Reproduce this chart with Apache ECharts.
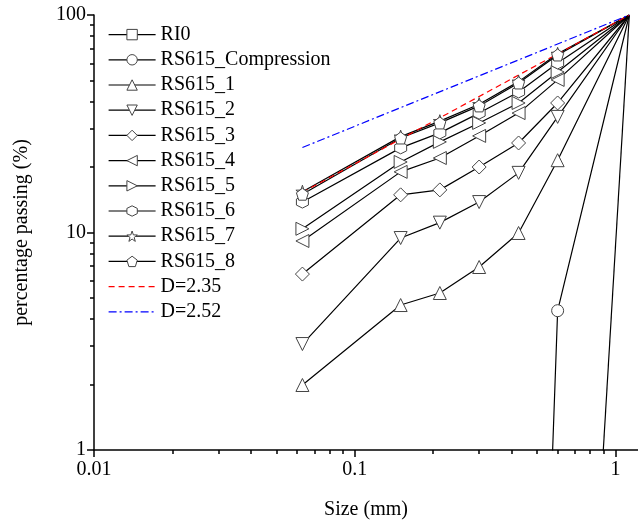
<!DOCTYPE html>
<html>
<head>
<meta charset="utf-8">
<script src="https://cdn.jsdelivr.net/npm/echarts@6/dist/echarts.min.js"></script>
<style>
  html, body { margin: 0; padding: 0; background: #fff; }
  #main { width: 638px; height: 526px; }
</style>
</head>
<body>
<div id="main"></div>
<script>
  // sieve sizes (mm)
  const sizes = [0.063, 0.15, 0.212, 0.3, 0.425, 0.6, 1.13]

  // percentage passing for every sample (null = not on the chart)
  const RI0 = [null, null, null, null, null, 0.00031, 100]
  const RS615_Compression = [null, null, null, null, 0.000044, 4.37, 100]
  const RS615_1 = [1.99, 4.64, 5.27, 6.94, 9.95, 21.5, 100]
  const RS615_2 = [3.07, 9.43, 11.1, 13.8, 18.8, 34.0, 100]
  const RS615_3 = [6.44, 14.9, 15.7, 20.0, 25.8, 39.4, 100]
  const RS615_4 = [9.14, 19.0, 22.0, 27.8, 35.4, 50.3, 100]
  const RS615_5 = [10.4, 21.1, 26.1, 31.9, 39.4, 54.7, 100]
  const RS615_6 = [13.8, 24.5, 28.7, 35.4, 44.3, 60.2, 100]
  const RS615_7 = [15.4, 27.6, 32.5, 38.9, 49.4, 66.3, 100]
  const RS615_8 = [15.0, 27.2, 31.9, 38.2, 48.7, 65.5, 100]

  // fractal lines, end points only
  const D235_x = [0.063, 1.13]
  const D235_y = [15.3, 100]
  const D252_x = [0.063, 1.13]
  const D252_y = [24.6, 100]

  // ticks
  const xMajor = [0.01, 0.1, 1]
  const xMinor = [0.02, 0.03, 0.04, 0.05, 0.06, 0.07, 0.08, 0.09, 0.2, 0.3, 0.4, 0.5, 0.6, 0.7, 0.8, 0.9]
  const yMajor = [1, 10, 100]
  const yMinor = [2, 3, 4, 5, 6, 7, 8, 9, 20, 30, 40, 50, 60, 70, 80, 90]

  const font = 'Liberation Serif'

  const hexagon = 'path://M0,-1L0.866,-0.5L0.866,0.5L0,1L-0.866,0.5L-0.866,-0.5Z'
  const pentagon = 'path://M0,-1L0.951,-0.309L0.588,0.809L-0.588,0.809L-0.951,-0.309Z'
  const star = 'path://M0,-1L0.235,-0.324L0.951,-0.309L0.38,0.124L0.588,0.809L0,0.4L-0.588,0.809L-0.38,0.124L-0.951,-0.309L-0.235,-0.324Z'

  function pairs(xs, ys, hideLast) {
    let out = []
    for (let i = 0; i < xs.length; i++) {
      if (ys[i] == null) continue
      // markers at the top corner are cut off by the frame in the original
      if (hideLast && i === xs.length - 1) out.push({ value: [xs[i], ys[i]], symbol: 'none' })
      else out.push([xs[i], ys[i]])
    }
    return out
  }

  function sample(name, values, symbol, rotate, size) {
    return {
      name: name,
      type: 'line',
      data: pairs(sizes, values, true),
      symbol: symbol,
      symbolRotate: rotate || 0,
      symbolSize: size || 11,
      showAllSymbol: true,
      lineStyle: { color: '#000', width: 1.2 },
      itemStyle: { color: '#fff', borderColor: '#444', borderWidth: 1 },
      emphasis: { disabled: true }
    }
  }

  function fractal(name, xs, ys, color, dash) {
    return {
      name: name,
      type: 'line',
      data: pairs(xs, ys, false),
      symbol: 'none',
      lineStyle: { color: color, width: 1.2, type: dash },
      itemStyle: { color: color, opacity: 0 },
      emphasis: { disabled: true },
      z: 3
    }
  }

  const series = [
    sample('RI0', RI0, 'rect', 0, 10),
    sample('RS615_Compression', RS615_Compression, 'circle', 0, 12),
    sample('RS615_1', RS615_1, 'triangle', 0, 13),
    sample('RS615_2', RS615_2, 'triangle', 180, 13),
    sample('RS615_3', RS615_3, 'diamond', 0, 14),
    sample('RS615_4', RS615_4, 'triangle', 90, 13),
    sample('RS615_5', RS615_5, 'triangle', -90, 13),
    sample('RS615_6', RS615_6, hexagon, 0, 12),
    sample('RS615_7', RS615_7, star, 0, 13),
    sample('RS615_8', RS615_8, pentagon, 0, 12),
    fractal('D=2.35', D235_x, D235_y, '#ff0000', [6, 4]),
    fractal('D=2.52', D252_x, D252_y, '#0000ff', [8, 3, 2, 3])
  ]

  const chart = echarts.init(document.getElementById('main'))
  chart.setOption({
    animation: false,
    grid: { left: 94, right: 0, top: 15, bottom: 76, outerBoundsMode: 'none' },
    legend: {
      orient: 'vertical',
      left: 108,
      top: 22,
      padding: 0,
      itemWidth: 47,
      itemHeight: 13,
      itemGap: 0,
      selectedMode: false,
      itemStyle: { borderWidth: 1 },
      lineStyle: { width: 1.2 },
      textStyle: { fontFamily: font, fontSize: 20, color: '#000', lineHeight: 25.2 },
      data: series.map(s => s.name)
    },
    xAxis: [
      {
        type: 'log', logBase: 10, min: 0.01, max: 1.22,
        position: 'bottom',
        name: 'Size (mm)', nameLocation: 'middle', nameGap: 50,
        nameTextStyle: { fontFamily: font, fontSize: 20, color: '#000' },
        axisLine: { lineStyle: { color: '#000', width: 1.5 } },
        axisTick: { customValues: xMajor, length: 7, lineStyle: { color: '#000', width: 1.5 } },
        axisLabel: { customValues: xMajor, fontFamily: font, fontSize: 20, color: '#000', margin: 10,
          formatter: v => String(v) },
        splitLine: { show: false }
      },
      {
        // minor ticks only
        type: 'log', logBase: 10, min: 0.01, max: 1.22,
        position: 'bottom',
        axisLine: { show: false },
        axisTick: { customValues: xMinor, length: 4, lineStyle: { color: '#000', width: 1.5 } },
        axisLabel: { show: false },
        splitLine: { show: false }
      }
    ],
    yAxis: [
      {
        type: 'log', logBase: 10, min: 1, max: 100,
        position: 'left',
        name: 'percentage passing (%)', nameLocation: 'middle', nameGap: 62,
        nameTextStyle: { fontFamily: font, fontSize: 20, color: '#000' },
        axisLine: { show: true, lineStyle: { color: '#000', width: 1.5 } },
        axisTick: { show: true, customValues: yMajor, length: 7, lineStyle: { color: '#000', width: 1.5 } },
        axisLabel: { customValues: yMajor, fontFamily: font, fontSize: 20, color: '#000', margin: 8,
          formatter: v => String(v) },
        splitLine: { show: false }
      },
      {
        type: 'log', logBase: 10, min: 1, max: 100,
        position: 'left',
        axisLine: { show: false },
        axisTick: { show: true, customValues: yMinor, length: 4, lineStyle: { color: '#000', width: 1.5 } },
        axisLabel: { show: false },
        splitLine: { show: false }
      }
    ],
    series: series
  })
</script>
</body>
</html>
